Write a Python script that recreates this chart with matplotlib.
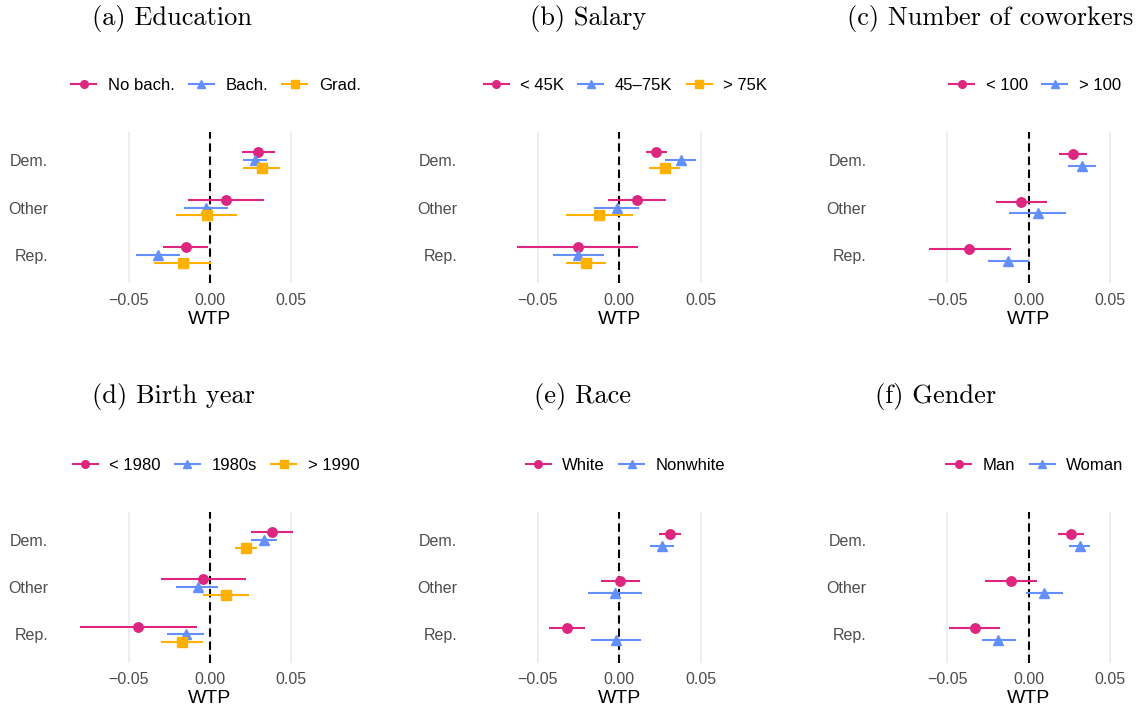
import matplotlib
matplotlib.use("Agg")
import matplotlib.pyplot as plt
from matplotlib.lines import Line2D

plt.rcParams['font.family'] = ['Liberation Sans', 'DejaVu Sans']

# categories, top to bottom
parties = ['Dem.', 'Other', 'Rep.']
xticks = [-0.05, 0.0, 0.05]
xtick_labels = ['\u22120.05', '0.00', '0.05']

colors = ['#DC267F', '#648FFF', '#FFB000']
markers = ['o', '^', 's']

# (a) Education
edu_title = '(a) Education'
edu_groups = ['No bach.', 'Bach.', 'Grad.']
edu_est = [[0.0296, 0.0096, -0.0149], [0.0276, -0.0024, -0.0318], [0.0318, -0.0018, -0.0165]]
edu_lo = [[0.0194, -0.0137, -0.0286], [0.0204, -0.0157, -0.0457], [0.0200, -0.0208, -0.0343]]
edu_hi = [[0.0402, 0.0329, -0.0014], [0.0351, 0.0108, -0.0182], [0.0433, 0.0165, 0.0008]]

# (b) Salary
sal_title = '(b) Salary'
sal_groups = ['< 45K', '45\u201375K', '> 75K']
sal_est = [[0.0227, 0.0107, -0.0256], [0.0377, -0.0016, -0.0252], [0.0279, -0.0127, -0.0205]]
sal_lo = [[0.0162, -0.0070, -0.0627], [0.0281, -0.0154, -0.0410], [0.0182, -0.0326, -0.0330]]
sal_hi = [[0.0295, 0.0285, 0.0115], [0.0473, 0.0119, -0.0092], [0.0375, 0.0082, -0.0084]]

# (c) Number of coworkers
cow_title = '(c) Number of coworkers'
cow_groups = ['< 100', '> 100']
cow_est = [[0.0270, -0.0045, -0.0365], [0.0326, 0.0055, -0.0125]]
cow_lo = [[0.0189, -0.0201, -0.0615], [0.0242, -0.0121, -0.0248]]
cow_hi = [[0.0357, 0.0111, -0.0111], [0.0414, 0.0230, 0.0004]]

# (d) Birth year
birth_title = '(d) Birth year'
birth_groups = ['< 1980', '1980s', '> 1990']
birth_est = [[0.0380, -0.0043, -0.0443], [0.0331, -0.0076, -0.0147], [0.0220, 0.0098, -0.0173]]
birth_lo = [[0.0251, -0.0304, -0.0802], [0.0249, -0.0206, -0.0263], [0.0155, -0.0043, -0.0300]]
birth_hi = [[0.0508, 0.0220, -0.0080], [0.0414, 0.0051, -0.0035], [0.0288, 0.0241, -0.0043]]

# (e) Race
race_title = '(e) Race'
race_groups = ['White', 'Nonwhite']
race_est = [[0.0314, 0.0006, -0.0322], [0.0262, -0.0027, -0.0020]]
race_lo = [[0.0246, -0.0111, -0.0430], [0.0186, -0.0191, -0.0174]]
race_hi = [[0.0381, 0.0125, -0.0213], [0.0338, 0.0139, 0.0131]]

# (f) Gender
gen_title = '(f) Gender'
gen_groups = ['Man', 'Woman']
gen_est = [[0.0258, -0.0109, -0.0332], [0.0316, 0.0096, -0.0189]]
gen_lo = [[0.0178, -0.0266, -0.0488], [0.0248, -0.0014, -0.0289]]
gen_hi = [[0.0338, 0.0051, -0.0178], [0.0379, 0.0209, -0.0076]]

panels = [
    (edu_title, edu_groups, edu_est, edu_lo, edu_hi),
    (sal_title, sal_groups, sal_est, sal_lo, sal_hi),
    (cow_title, cow_groups, cow_est, cow_lo, cow_hi),
    (birth_title, birth_groups, birth_est, birth_lo, birth_hi),
    (race_title, race_groups, race_est, race_lo, race_hi),
    (gen_title, gen_groups, gen_est, gen_lo, gen_hi),
]

W, H = 1140, 710
fig = plt.figure(figsize=(W / 100, H / 100), dpi=100)

# layout in pixels
zero_px = [210, 619.3, 1028.7]
row_top = [132, 511.7]
ax_h = 151
px_per_unit = 1627
half = 0.097
title_x = [172, 588, 990, 173, 583, 936]
title_y = [18, 396]
legend_x = [216, 625.5, 1035, 216, 625.5, 1035]
legend_y = [85, 465]

dodge = 0.5
for k, (title, groups, est, lo, hi) in enumerate(panels):
    r, c = divmod(k, 3)
    left = zero_px[c] - half * px_per_unit
    width = 2 * half * px_per_unit
    ax = fig.add_axes([left / W, 1 - (row_top[r] + ax_h) / H, width / W, ax_h / H])
    n = len(groups)
    ypos = [3, 2, 1]
    for i in range(n):
        off = ((n - 1) / 2 - i) * dodge / n
        ys = [y + off for y in ypos]
        xerr = [[e - l for e, l in zip(est[i], lo[i])], [h - e for e, h in zip(est[i], hi[i])]]
        ax.errorbar(est[i], ys, xerr=xerr, fmt=markers[i], color=colors[i],
                    ms=7.2 if markers[i] != 'o' else 6.8, elinewidth=1.5, capsize=0,
                    zorder=3 + i)
    ax.axvline(0, color='black', lw=1.5, ls=(0, (4, 2.3)), zorder=2)
    ax.set_xlim(-half, half)
    ax.set_ylim(0.4, 3.6)
    ax.set_xticks(xticks)
    ax.set_xticklabels(xtick_labels)
    ax.set_yticks(ypos)
    ax.set_yticklabels(parties)
    ax.tick_params(length=0, labelsize=11.5, labelcolor='#4D4D4D')
    ax.tick_params(axis='x', pad=7)
    ax.tick_params(axis='y', pad=3)
    ax.grid(axis='x', color='#EBEBEB', lw=1.2)
    ax.set_axisbelow(True)
    for s in ax.spines.values():
        s.set_visible(False)
    ax.set_xlabel('WTP', fontsize=14, labelpad=2)

    fig.text(title_x[k] / W, 1 - title_y[r] / H, title, family='cmr10',
             fontsize=19, ha='center', va='center')

    handles = [Line2D([], [], color=colors[i], marker=markers[i], lw=1.5,
                      ms=6 if markers[i] != 'o' else 5.5) for i in range(n)]
    fig.legend(handles, groups, loc='center', ncol=n, frameon=False,
               bbox_to_anchor=(legend_x[k] / W, 1 - legend_y[r] / H),
               fontsize=12, handlelength=1.5, handletextpad=0.7,
               columnspacing=0.85, borderpad=0)

fig.savefig('out.png', dpi=100)
